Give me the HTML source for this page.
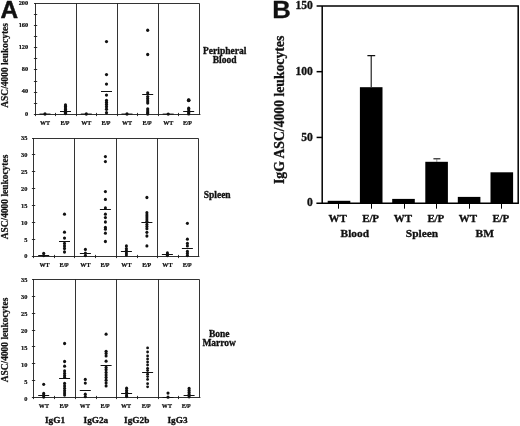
<!DOCTYPE html>
<html lang="en"><head><meta charset="utf-8"><title>Figure</title>
<style>html,body{margin:0;padding:0;background:#fff}svg{display:block;filter:grayscale(1)}text{font-family:"Liberation Serif","DejaVu Serif",serif;font-weight:bold;fill:#111;stroke:#111;stroke-width:0.22px;stroke-linejoin:round}.b text,text.b{stroke-width:0.32px}.sans{font-family:"Liberation Sans","DejaVu Sans",sans-serif;font-weight:bold}</style></head><body>
<svg width="520" height="426" viewBox="0 0 520 426">
<rect x="0" y="0" width="520" height="426" fill="#fff"/>
<text class="sans" x="0.5" y="18.35" font-size="24.4" style="stroke-width:0.5px">A</text>
<text class="sans" transform="translate(272.3 18.3) scale(1.05 1)" font-size="24.5" style="stroke-width:0.3px">B</text>
<g stroke="#1c1c1c" stroke-width="0.90" fill="none" stroke-linecap="butt">
<path d="M34.00 3.50 H199.50 V114.50"/>
<path d="M35.50 3.00 V116.10"/>
<path d="M33.90 114.50 H200.40"/>
<path d="M76.50 3.50 V116.10"/>
<path d="M117.50 3.50 V116.10"/>
<path d="M158.50 3.50 V116.10"/>
<path d="M33.90 103.50 H37.20"/>
<path d="M33.90 92.50 H37.20"/>
<path d="M33.90 81.50 H37.20"/>
<path d="M33.90 69.50 H37.20"/>
<path d="M33.90 58.50 H37.20"/>
<path d="M33.90 47.50 H37.20"/>
<path d="M33.90 36.50 H37.20"/>
<path d="M33.90 25.50 H37.20"/>
<path d="M33.90 14.50 H37.20"/>
<path d="M55.50 112.90 V116.10"/>
<path d="M96.50 112.90 V116.10"/>
<path d="M137.50 112.90 V116.10"/>
<path d="M178.50 112.90 V116.10"/>
</g>
<text x="28.20" y="115.60" font-size="6.35" text-anchor="end">0</text>
<text x="28.20" y="93.44" font-size="6.35" text-anchor="end">40</text>
<text x="28.20" y="71.28" font-size="6.35" text-anchor="end">80</text>
<text x="28.20" y="49.12" font-size="6.35" text-anchor="end">120</text>
<text x="28.20" y="26.96" font-size="6.35" text-anchor="end">160</text>
<text x="28.20" y="4.80" font-size="6.35" text-anchor="end">200</text>
<text x="45.00" y="124.90" font-size="6.05" text-anchor="middle">WT</text>
<text x="64.80" y="124.90" font-size="6.05" text-anchor="middle" letter-spacing="-0.2">E/P</text>
<text x="86.30" y="124.90" font-size="6.05" text-anchor="middle">WT</text>
<text x="105.80" y="124.90" font-size="6.05" text-anchor="middle" letter-spacing="-0.2">E/P</text>
<text x="127.00" y="124.90" font-size="6.05" text-anchor="middle">WT</text>
<text x="147.00" y="124.90" font-size="6.05" text-anchor="middle" letter-spacing="-0.2">E/P</text>
<text x="168.20" y="124.90" font-size="6.05" text-anchor="middle">WT</text>
<text x="187.30" y="124.90" font-size="6.05" text-anchor="middle" letter-spacing="-0.2">E/P</text>
<g fill="#111">
<ellipse cx="45.00" cy="114.00" rx="1.60" ry="1.70"/>
<ellipse cx="65.50" cy="105.00" rx="1.60" ry="1.70"/>
<ellipse cx="65.50" cy="106.50" rx="1.60" ry="1.70"/>
<ellipse cx="65.50" cy="108.00" rx="1.60" ry="1.70"/>
<ellipse cx="65.50" cy="109.50" rx="1.60" ry="1.70"/>
<ellipse cx="65.50" cy="111.00" rx="1.60" ry="1.70"/>
<ellipse cx="65.50" cy="112.30" rx="1.60" ry="1.70"/>
<ellipse cx="65.50" cy="113.60" rx="1.60" ry="1.70"/>
<ellipse cx="86.30" cy="114.00" rx="1.60" ry="1.70"/>
<ellipse cx="106.50" cy="41.60" rx="1.60" ry="1.70"/>
<ellipse cx="106.50" cy="74.60" rx="1.60" ry="1.70"/>
<ellipse cx="106.50" cy="84.10" rx="1.60" ry="1.70"/>
<ellipse cx="106.50" cy="95.10" rx="1.60" ry="1.70"/>
<ellipse cx="106.50" cy="100.50" rx="1.60" ry="1.70"/>
<ellipse cx="106.50" cy="102.40" rx="1.60" ry="1.70"/>
<ellipse cx="106.50" cy="104.50" rx="1.60" ry="1.70"/>
<ellipse cx="106.50" cy="106.80" rx="1.60" ry="1.70"/>
<ellipse cx="106.50" cy="109.20" rx="1.60" ry="1.70"/>
<ellipse cx="106.50" cy="112.70" rx="1.60" ry="1.70"/>
<ellipse cx="127.00" cy="114.00" rx="1.60" ry="1.70"/>
<ellipse cx="147.70" cy="30.30" rx="1.60" ry="1.70"/>
<ellipse cx="147.70" cy="54.50" rx="1.60" ry="1.70"/>
<ellipse cx="147.70" cy="93.00" rx="1.60" ry="1.70"/>
<ellipse cx="147.70" cy="96.60" rx="1.60" ry="1.70"/>
<ellipse cx="147.70" cy="98.80" rx="1.60" ry="1.70"/>
<ellipse cx="147.70" cy="101.00" rx="1.60" ry="1.70"/>
<ellipse cx="147.70" cy="103.00" rx="1.60" ry="1.70"/>
<ellipse cx="147.70" cy="108.90" rx="1.60" ry="1.70"/>
<ellipse cx="147.70" cy="111.00" rx="1.60" ry="1.70"/>
<ellipse cx="147.70" cy="112.80" rx="1.60" ry="1.70"/>
<ellipse cx="147.70" cy="114.00" rx="1.60" ry="1.70"/>
<ellipse cx="168.20" cy="114.10" rx="1.60" ry="1.70"/>
<ellipse cx="188.70" cy="100.30" rx="1.60" ry="1.70"/>
<ellipse cx="188.70" cy="108.20" rx="1.60" ry="1.70"/>
<ellipse cx="188.70" cy="110.00" rx="1.60" ry="1.70"/>
<ellipse cx="188.70" cy="112.40" rx="1.60" ry="1.70"/>
<ellipse cx="188.70" cy="113.90" rx="1.60" ry="1.70"/>
</g>
<g stroke="#111" stroke-width="1.00">
<path d="M39.50 114.05 H50.50"/>
<path d="M60.00 111.50 H71.00"/>
<path d="M80.80 114.05 H91.80"/>
<path d="M101.00 91.50 H112.00"/>
<path d="M121.50 114.05 H132.50"/>
<path d="M142.20 94.50 H153.20"/>
<path d="M162.70 114.10 H173.70"/>
<path d="M183.20 111.50 H194.20"/>
</g>
<text transform="translate(8.00 65.40) rotate(-90)" font-size="9.45" text-anchor="middle">ASC/4000 leukocytes</text>
<text class="b" x="224.70" y="53.90" font-size="9.5" text-anchor="middle">Peripheral</text>
<text class="b" x="224.60" y="63.40" font-size="9.5" text-anchor="middle">Blood</text>
<g stroke="#1c1c1c" stroke-width="0.90" fill="none" stroke-linecap="butt">
<path d="M32.00 138.50 H198.50 V256.50"/>
<path d="M33.50 138.00 V258.10"/>
<path d="M31.90 256.50 H199.40"/>
<path d="M74.50 138.50 V258.10"/>
<path d="M116.50 138.50 V258.10"/>
<path d="M157.50 138.50 V258.10"/>
<path d="M31.90 239.50 H35.20"/>
<path d="M31.90 222.50 H35.20"/>
<path d="M31.90 205.50 H35.20"/>
<path d="M31.90 188.50 H35.20"/>
<path d="M31.90 171.50 H35.20"/>
<path d="M31.90 154.50 H35.20"/>
<path d="M54.50 254.90 V258.10"/>
<path d="M95.50 254.90 V258.10"/>
<path d="M137.50 254.90 V258.10"/>
<path d="M178.50 254.90 V258.10"/>
</g>
<text x="27.40" y="258.45" font-size="6.35" text-anchor="end">0</text>
<text x="27.40" y="241.54" font-size="6.35" text-anchor="end">5</text>
<text x="27.40" y="224.64" font-size="6.35" text-anchor="end">10</text>
<text x="27.40" y="207.73" font-size="6.35" text-anchor="end">15</text>
<text x="27.40" y="190.82" font-size="6.35" text-anchor="end">20</text>
<text x="27.40" y="173.91" font-size="6.35" text-anchor="end">25</text>
<text x="27.40" y="157.01" font-size="6.35" text-anchor="end">30</text>
<text x="27.40" y="140.10" font-size="6.35" text-anchor="end">35</text>
<text x="44.60" y="267.00" font-size="6.05" text-anchor="middle">WT</text>
<text x="64.00" y="267.00" font-size="6.05" text-anchor="middle" letter-spacing="-0.2">E/P</text>
<text x="85.40" y="267.00" font-size="6.05" text-anchor="middle">WT</text>
<text x="104.90" y="267.00" font-size="6.05" text-anchor="middle" letter-spacing="-0.2">E/P</text>
<text x="126.40" y="267.00" font-size="6.05" text-anchor="middle">WT</text>
<text x="146.70" y="267.00" font-size="6.05" text-anchor="middle" letter-spacing="-0.2">E/P</text>
<text x="167.40" y="267.00" font-size="6.05" text-anchor="middle">WT</text>
<text x="187.20" y="267.00" font-size="6.05" text-anchor="middle" letter-spacing="-0.2">E/P</text>
<g fill="#111">
<ellipse cx="43.70" cy="253.30" rx="1.55" ry="1.65"/>
<ellipse cx="43.70" cy="255.60" rx="1.55" ry="1.65"/>
<ellipse cx="64.50" cy="214.20" rx="1.55" ry="1.65"/>
<ellipse cx="64.50" cy="232.20" rx="1.55" ry="1.65"/>
<ellipse cx="64.50" cy="238.10" rx="1.55" ry="1.65"/>
<ellipse cx="64.50" cy="243.40" rx="1.55" ry="1.65"/>
<ellipse cx="64.50" cy="245.90" rx="1.55" ry="1.65"/>
<ellipse cx="64.50" cy="248.50" rx="1.55" ry="1.65"/>
<ellipse cx="64.50" cy="252.00" rx="1.55" ry="1.65"/>
<ellipse cx="85.40" cy="249.40" rx="1.55" ry="1.65"/>
<ellipse cx="85.40" cy="253.20" rx="1.55" ry="1.65"/>
<ellipse cx="85.40" cy="255.60" rx="1.55" ry="1.65"/>
<ellipse cx="105.40" cy="156.60" rx="1.55" ry="1.65"/>
<ellipse cx="105.40" cy="161.60" rx="1.55" ry="1.65"/>
<ellipse cx="105.40" cy="191.60" rx="1.55" ry="1.65"/>
<ellipse cx="105.40" cy="199.40" rx="1.55" ry="1.65"/>
<ellipse cx="105.40" cy="207.90" rx="1.55" ry="1.65"/>
<ellipse cx="105.40" cy="214.20" rx="1.55" ry="1.65"/>
<ellipse cx="105.40" cy="217.60" rx="1.55" ry="1.65"/>
<ellipse cx="105.40" cy="222.00" rx="1.55" ry="1.65"/>
<ellipse cx="105.40" cy="227.50" rx="1.55" ry="1.65"/>
<ellipse cx="105.40" cy="229.20" rx="1.55" ry="1.65"/>
<ellipse cx="105.40" cy="233.20" rx="1.55" ry="1.65"/>
<ellipse cx="105.40" cy="241.50" rx="1.55" ry="1.65"/>
<ellipse cx="126.40" cy="245.90" rx="1.55" ry="1.65"/>
<ellipse cx="126.40" cy="248.70" rx="1.55" ry="1.65"/>
<ellipse cx="126.40" cy="250.80" rx="1.55" ry="1.65"/>
<ellipse cx="126.40" cy="252.90" rx="1.55" ry="1.65"/>
<ellipse cx="126.40" cy="255.00" rx="1.55" ry="1.65"/>
<ellipse cx="146.90" cy="197.50" rx="1.55" ry="1.65"/>
<ellipse cx="146.90" cy="212.70" rx="1.55" ry="1.65"/>
<ellipse cx="146.90" cy="214.90" rx="1.55" ry="1.65"/>
<ellipse cx="146.90" cy="217.00" rx="1.55" ry="1.65"/>
<ellipse cx="146.90" cy="219.10" rx="1.55" ry="1.65"/>
<ellipse cx="146.90" cy="221.20" rx="1.55" ry="1.65"/>
<ellipse cx="146.90" cy="224.50" rx="1.55" ry="1.65"/>
<ellipse cx="146.90" cy="226.60" rx="1.55" ry="1.65"/>
<ellipse cx="146.90" cy="228.70" rx="1.55" ry="1.65"/>
<ellipse cx="146.90" cy="232.30" rx="1.55" ry="1.65"/>
<ellipse cx="146.90" cy="236.00" rx="1.55" ry="1.65"/>
<ellipse cx="146.90" cy="245.90" rx="1.55" ry="1.65"/>
<ellipse cx="167.40" cy="252.90" rx="1.55" ry="1.65"/>
<ellipse cx="167.40" cy="254.40" rx="1.55" ry="1.65"/>
<ellipse cx="167.40" cy="255.60" rx="1.55" ry="1.65"/>
<ellipse cx="187.40" cy="223.30" rx="1.55" ry="1.65"/>
<ellipse cx="187.40" cy="239.20" rx="1.55" ry="1.65"/>
<ellipse cx="187.40" cy="243.40" rx="1.55" ry="1.65"/>
<ellipse cx="187.40" cy="245.90" rx="1.55" ry="1.65"/>
<ellipse cx="187.40" cy="251.40" rx="1.55" ry="1.65"/>
<ellipse cx="187.40" cy="253.50" rx="1.55" ry="1.65"/>
<ellipse cx="187.40" cy="255.60" rx="1.55" ry="1.65"/>
</g>
<g stroke="#111" stroke-width="1.00">
<path d="M38.20 255.50 H49.20"/>
<path d="M59.00 241.50 H70.00"/>
<path d="M79.90 253.50 H90.90"/>
<path d="M99.90 209.50 H110.90"/>
<path d="M120.90 251.50 H131.90"/>
<path d="M141.40 222.50 H152.40"/>
<path d="M161.90 254.50 H172.90"/>
<path d="M181.90 248.50 H192.90"/>
</g>
<text transform="translate(8.00 197.00) rotate(-90)" font-size="9.45" text-anchor="middle">ASC/4000 leukocytes</text>
<text class="b" x="217.20" y="197.50" font-size="9.5" text-anchor="middle">Spleen</text>
<g stroke="#1c1c1c" stroke-width="0.90" fill="none" stroke-linecap="butt">
<path d="M32.00 279.50 H199.50 V397.50"/>
<path d="M33.50 279.00 V399.10"/>
<path d="M31.90 397.50 H200.40"/>
<path d="M75.50 279.50 V399.10"/>
<path d="M116.50 279.50 V399.10"/>
<path d="M158.50 279.50 V399.10"/>
<path d="M31.90 380.50 H35.20"/>
<path d="M31.90 363.50 H35.20"/>
<path d="M31.90 346.50 H35.20"/>
<path d="M31.90 330.50 H35.20"/>
<path d="M31.90 313.50 H35.20"/>
<path d="M31.90 296.50 H35.20"/>
<path d="M54.50 395.90 V399.10"/>
<path d="M96.50 395.90 V399.10"/>
<path d="M137.50 395.90 V399.10"/>
<path d="M178.50 395.90 V399.10"/>
</g>
<text x="27.40" y="400.60" font-size="6.35" text-anchor="end">0</text>
<text x="27.40" y="383.70" font-size="6.35" text-anchor="end">5</text>
<text x="27.40" y="366.80" font-size="6.35" text-anchor="end">10</text>
<text x="27.40" y="349.90" font-size="6.35" text-anchor="end">15</text>
<text x="27.40" y="333.00" font-size="6.35" text-anchor="end">20</text>
<text x="27.40" y="316.10" font-size="6.35" text-anchor="end">25</text>
<text x="27.40" y="299.20" font-size="6.35" text-anchor="end">30</text>
<text x="27.40" y="282.30" font-size="6.35" text-anchor="end">35</text>
<text x="43.90" y="408.30" font-size="6.05" text-anchor="middle">WT</text>
<text x="63.80" y="408.30" font-size="6.05" text-anchor="middle" letter-spacing="-0.2">E/P</text>
<text x="84.90" y="408.30" font-size="6.05" text-anchor="middle">WT</text>
<text x="105.00" y="408.30" font-size="6.05" text-anchor="middle" letter-spacing="-0.2">E/P</text>
<text x="126.00" y="408.30" font-size="6.05" text-anchor="middle">WT</text>
<text x="146.20" y="408.30" font-size="6.05" text-anchor="middle" letter-spacing="-0.2">E/P</text>
<text x="166.90" y="408.30" font-size="6.05" text-anchor="middle">WT</text>
<text x="186.20" y="408.30" font-size="6.05" text-anchor="middle" letter-spacing="-0.2">E/P</text>
<g fill="#111">
<ellipse cx="43.70" cy="384.30" rx="1.55" ry="1.65"/>
<ellipse cx="43.70" cy="393.50" rx="1.55" ry="1.65"/>
<ellipse cx="43.70" cy="395.20" rx="1.55" ry="1.65"/>
<ellipse cx="43.70" cy="397.00" rx="1.55" ry="1.65"/>
<ellipse cx="64.60" cy="343.50" rx="1.55" ry="1.65"/>
<ellipse cx="64.60" cy="361.50" rx="1.55" ry="1.65"/>
<ellipse cx="64.60" cy="366.20" rx="1.55" ry="1.65"/>
<ellipse cx="64.60" cy="371.00" rx="1.55" ry="1.65"/>
<ellipse cx="64.60" cy="373.40" rx="1.55" ry="1.65"/>
<ellipse cx="64.60" cy="375.60" rx="1.55" ry="1.65"/>
<ellipse cx="64.60" cy="377.40" rx="1.55" ry="1.65"/>
<ellipse cx="64.60" cy="383.40" rx="1.55" ry="1.65"/>
<ellipse cx="64.60" cy="386.00" rx="1.55" ry="1.65"/>
<ellipse cx="64.60" cy="388.40" rx="1.55" ry="1.65"/>
<ellipse cx="64.60" cy="390.80" rx="1.55" ry="1.65"/>
<ellipse cx="64.60" cy="392.90" rx="1.55" ry="1.65"/>
<ellipse cx="64.60" cy="395.00" rx="1.55" ry="1.65"/>
<ellipse cx="85.30" cy="379.40" rx="1.55" ry="1.65"/>
<ellipse cx="85.30" cy="383.10" rx="1.55" ry="1.65"/>
<ellipse cx="85.30" cy="394.20" rx="1.55" ry="1.65"/>
<ellipse cx="85.30" cy="396.70" rx="1.55" ry="1.65"/>
<ellipse cx="106.10" cy="334.20" rx="1.55" ry="1.65"/>
<ellipse cx="106.10" cy="351.30" rx="1.55" ry="1.65"/>
<ellipse cx="106.10" cy="353.40" rx="1.55" ry="1.65"/>
<ellipse cx="106.10" cy="355.90" rx="1.55" ry="1.65"/>
<ellipse cx="106.10" cy="361.20" rx="1.55" ry="1.65"/>
<ellipse cx="106.10" cy="367.50" rx="1.55" ry="1.65"/>
<ellipse cx="106.10" cy="369.70" rx="1.55" ry="1.65"/>
<ellipse cx="106.10" cy="372.40" rx="1.55" ry="1.65"/>
<ellipse cx="106.10" cy="375.00" rx="1.55" ry="1.65"/>
<ellipse cx="106.10" cy="377.50" rx="1.55" ry="1.65"/>
<ellipse cx="106.10" cy="380.20" rx="1.55" ry="1.65"/>
<ellipse cx="106.10" cy="383.00" rx="1.55" ry="1.65"/>
<ellipse cx="106.10" cy="385.90" rx="1.55" ry="1.65"/>
<ellipse cx="126.60" cy="388.20" rx="1.55" ry="1.65"/>
<ellipse cx="126.60" cy="390.40" rx="1.55" ry="1.65"/>
<ellipse cx="126.60" cy="392.50" rx="1.55" ry="1.65"/>
<ellipse cx="126.60" cy="395.00" rx="1.55" ry="1.65"/>
<ellipse cx="126.60" cy="396.50" rx="1.55" ry="1.65"/>
<ellipse cx="147.60" cy="347.90" rx="1.40" ry="1.40"/>
<ellipse cx="147.60" cy="352.00" rx="1.40" ry="1.40"/>
<ellipse cx="147.60" cy="355.90" rx="1.40" ry="1.40"/>
<ellipse cx="147.60" cy="358.90" rx="1.40" ry="1.40"/>
<ellipse cx="147.60" cy="362.00" rx="1.40" ry="1.40"/>
<ellipse cx="147.60" cy="365.00" rx="1.40" ry="1.40"/>
<ellipse cx="147.60" cy="368.30" rx="1.40" ry="1.40"/>
<ellipse cx="147.60" cy="370.50" rx="1.40" ry="1.40"/>
<ellipse cx="147.60" cy="374.20" rx="1.40" ry="1.40"/>
<ellipse cx="147.60" cy="376.60" rx="1.40" ry="1.40"/>
<ellipse cx="147.60" cy="379.40" rx="1.40" ry="1.40"/>
<ellipse cx="147.60" cy="383.70" rx="1.40" ry="1.40"/>
<ellipse cx="147.60" cy="386.80" rx="1.40" ry="1.40"/>
<ellipse cx="168.00" cy="393.10" rx="1.55" ry="1.65"/>
<ellipse cx="168.00" cy="397.20" rx="1.55" ry="1.65"/>
<ellipse cx="189.10" cy="388.40" rx="1.55" ry="1.65"/>
<ellipse cx="189.10" cy="390.40" rx="1.55" ry="1.65"/>
<ellipse cx="189.10" cy="392.50" rx="1.55" ry="1.65"/>
<ellipse cx="189.10" cy="394.40" rx="1.55" ry="1.65"/>
<ellipse cx="189.10" cy="396.80" rx="1.55" ry="1.65"/>
</g>
<g stroke="#111" stroke-width="1.00">
<path d="M38.20 395.50 H49.20"/>
<path d="M59.10 378.50 H70.10"/>
<path d="M79.80 390.50 H90.80"/>
<path d="M100.60 365.50 H111.60"/>
<path d="M121.10 393.50 H132.10"/>
<path d="M142.10 372.50 H153.10"/>
<path d="M162.50 397.50 H173.50"/>
<path d="M183.60 395.50 H194.60"/>
</g>
<text transform="translate(8.00 340.00) rotate(-90)" font-size="9.45" text-anchor="middle">ASC/4000 leukocytes</text>
<text class="b" x="219.20" y="336.50" font-size="9.5" text-anchor="middle">Bone</text>
<text class="b" x="219.20" y="345.50" font-size="9.5" text-anchor="middle">Marrow</text>
<ellipse cx="188.70" cy="100.30" rx="1.85" ry="2.05" fill="#111"/>
<text x="55.00" y="423.1" font-size="9.25" class="b" text-anchor="middle">IgG1</text>
<text x="95.90" y="423.1" font-size="9.25" class="b" text-anchor="middle">IgG2a</text>
<text x="136.70" y="423.1" font-size="9.25" class="b" text-anchor="middle">IgG2b</text>
<text x="177.50" y="423.1" font-size="9.25" class="b" text-anchor="middle">IgG3</text>
<g stroke="#000" stroke-width="1.5" fill="none">
<path d="M316.60 5.90 H518.20 V203.80"/>
<path d="M322.20 5.90 V203.20"/>
<path d="M316.40 203.20 H518.80"/>
<path d="M316.60 137.43 H322.20"/>
<path d="M316.60 71.67 H322.20"/>
</g>
<g stroke="#000" stroke-width="1.0" fill="none">
<path d="M338.50 203.20 V208.70"/>
<path d="M371.50 203.20 V208.70"/>
<path d="M404.50 203.20 V208.70"/>
<path d="M436.50 203.20 V208.70"/>
<path d="M469.50 203.20 V208.70"/>
<path d="M501.50 203.20 V208.70"/>
</g>
<g class="b">
<text x="312.9" y="206.30" font-size="11.6" text-anchor="end">0</text>
<text x="312.9" y="140.53" font-size="11.6" text-anchor="end">50</text>
<text x="312.9" y="74.77" font-size="11.6" text-anchor="end">100</text>
<text x="312.9" y="9.00" font-size="11.6" text-anchor="end">150</text>
</g>
<g fill="#000">
<rect x="327.70" y="200.80" width="22.60" height="2.70"/>
<rect x="359.90" y="87.20" width="22.60" height="116.30"/>
<rect x="392.20" y="198.90" width="22.60" height="4.60"/>
<rect x="425.30" y="161.80" width="22.60" height="41.70"/>
<rect x="457.80" y="196.90" width="22.60" height="6.60"/>
<rect x="490.50" y="172.30" width="22.60" height="31.20"/>
</g>
<g stroke="#111" stroke-width="1.1" fill="none">
<path d="M371.2 87 V55.6 M367.4 55.6 H375.2"/>
<path d="M433.4 158.8 H440.4"/>
<path d="M436.8 162 V158.8" stroke-width="0.6" stroke="#555"/>
</g>
<g class="b">
<text x="337.60" y="221.6" font-size="11" text-anchor="middle">WT</text>
<text x="370.50" y="221.6" font-size="11" text-anchor="middle" letter-spacing="-0.25">E/P</text>
<text x="402.80" y="221.6" font-size="11" text-anchor="middle">WT</text>
<text x="435.70" y="221.6" font-size="11" text-anchor="middle" letter-spacing="-0.25">E/P</text>
<text x="468.00" y="221.6" font-size="11" text-anchor="middle">WT</text>
<text x="500.70" y="221.6" font-size="11" text-anchor="middle" letter-spacing="-0.25">E/P</text>
<text x="354.80" y="236.6" font-size="11.4" text-anchor="middle">Blood</text>
<text x="422.00" y="236.6" font-size="11.4" text-anchor="middle">Spleen</text>
<text x="484.80" y="236.6" font-size="11.4" text-anchor="middle">BM</text>
<text transform="translate(284.2 109.9) rotate(-90)" font-size="13.7" text-anchor="middle">IgG ASC/4000 leukocytes</text>
</g>
</svg></body></html>
